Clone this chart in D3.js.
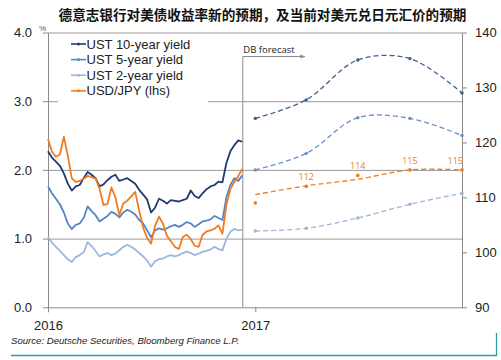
<!DOCTYPE html>
<html><head><meta charset="utf-8">
<script src="https://cdn.jsdelivr.net/npm/d3@7/dist/d3.min.js"></script>
<style>
html,body{margin:0;padding:0;background:#fff;}
svg{display:block;}
text{font-family:"Liberation Sans",Arial,sans-serif;}
</style></head>
<body><svg id="c" width="501" height="360"></svg>
<script>
// ---------- DATA ----------
const title = "德意志银行对美债收益率新的预期，及当前对美元兑日元汇价的预期";
const seriesNames = ["UST 10-year yield","UST 5-year yield","UST 2-year yield","USD/JPY (lhs)"];
const histStart = "2016-01-01"; // weekly observations
const ust10 = [2.27,2.18,2.12,2.06,1.95,1.80,1.70,1.76,1.78,1.88,1.97,1.93,1.88,1.76,1.79,1.85,1.90,1.93,1.84,1.86,
  1.88,1.84,1.80,1.71,1.64,1.57,1.38,1.45,1.58,1.55,1.51,1.56,1.55,1.54,1.56,1.58,1.70,1.62,1.59,1.66,
  1.72,1.76,1.78,1.83,1.82,2.10,2.27,2.36,2.43,2.41];
const ust5 = [1.76,1.66,1.58,1.50,1.38,1.22,1.14,1.20,1.22,1.30,1.47,1.40,1.34,1.25,1.29,1.33,1.39,1.36,1.31,1.38,
  1.42,1.39,1.35,1.27,1.22,1.12,1.02,1.12,1.15,1.13,1.15,1.18,1.20,1.17,1.20,1.24,1.22,1.17,1.21,1.25,
  1.26,1.28,1.33,1.30,1.27,1.60,1.78,1.88,1.84,1.92];
const ust2 = [1.03,0.94,0.88,0.82,0.76,0.70,0.66,0.73,0.76,0.80,0.95,0.89,0.82,0.74,0.77,0.79,0.76,0.78,0.83,0.88,
  0.91,0.88,0.84,0.79,0.74,0.68,0.59,0.67,0.70,0.71,0.74,0.76,0.74,0.76,0.79,0.81,0.79,0.76,0.78,0.81,
  0.82,0.84,0.88,0.85,0.83,1.00,1.10,1.14,1.12,1.13];
const usdjpy = [120.6,118.3,117.4,117.8,121.0,117.6,113.5,112.8,113.0,113.4,113.9,113.7,113.4,111.6,108.6,108.8,111.8,110.0,106.8,108.9,
  109.4,110.2,111.0,107.6,104.5,102.6,101.6,104.8,106.5,105.2,103.0,102.0,101.0,100.6,102.8,103.2,102.4,101.2,101.0,103.2,
  103.8,104.0,104.3,104.9,103.4,108.6,111.5,112.8,113.9,115.2];

const fcDates = ["2017-01-01","2017-04-01","2017-07-01","2017-10-01","2018-01-01"];
const fc10 = [2.75,3.02,3.60,3.62,3.12];
const fc5  = [2.00,2.24,2.76,2.75,2.50];
const fc2  = [1.11,1.15,1.30,1.50,1.66];
const fcJpy = [109,112,114,115,115];
const fcJpyTrend = [110.5,112.1,113.3,115.0,115.0];
const fcJpyLabels = ["","112","114","115","115"];
const forecastStart = "2016-12-10";
const forecastLabel = "DB forecast";

const leftTicks = [0,1,2,3,4];
const rightTicks = [90,100,110,120,130,140];
const xTicks = ["2016-01-01","2017-01-01"];
const source = "Source: Deutsche Securities, Bloomberg Finance L.P.";

// ---------- CHART ----------
const colors = {u10:"#1f3b72", u5:"#5585c4", u2:"#9db8de", jpy:"#f27b1f"};
const fcColors = {u10:"#3f5f93", u5:"#6a91c4", u2:"#9fb6d6", jpy:"#ef7d22"};
const parse = d3.timeParse("%Y-%m-%d");
const svg = d3.select("#c");
const L = 48, R = 462, T = 32.5, B = 307.3;

const x = d3.scaleTime().domain([parse("2016-01-01"), parse("2018-01-01")]).range([L, R]);
const yL = d3.scaleLinear().domain([0,4]).range([B, T]);
const yR = d3.scaleLinear().domain([90,140]).range([B, T]);

const d0 = parse(histStart);
const histDates = ust10.map((_, i) => d3.timeDay.offset(d0, i*7));

svg.append("text").attr("x", 262.5).attr("y", 19.5).attr("text-anchor","middle")
  .style("font-family",'"Noto Sans CJK SC",sans-serif').style("font-weight","bold")
  .style("font-size","13.6px").attr("fill","#111").text(title);

// gridlines
svg.append("g").attr("transform",`translate(${L},0)`)
  .call(d3.axisLeft(yL).tickValues(leftTicks.filter(d=>d>0)).tickSize(-(R-L)).tickFormat(""))
  .call(g=>g.select(".domain").remove())
  .call(g=>g.selectAll("line").attr("stroke","#9a9a9a").attr("stroke-width",1));

// left axis
svg.append("g").attr("transform",`translate(${L},0)`)
  .call(d3.axisLeft(yL).tickValues(leftTicks).tickFormat(d3.format(".1f")).tickSize(5).tickPadding(11).tickSizeOuter(0))
  .call(g=>g.select(".domain").attr("stroke","#8a8a8a"))
  .call(g=>g.selectAll("line").attr("stroke","#8a8a8a"))
  .call(g=>g.selectAll("text").style("font-size","13px").attr("fill","#222"));
svg.append("text").attr("x",39).attr("y",31).style("font-size","8px").attr("fill","#555").text("%");

// right axis
svg.append("g").attr("transform",`translate(${R},0)`)
  .call(d3.axisRight(yR).tickValues(rightTicks).tickSize(5).tickPadding(8).tickSizeOuter(0))
  .call(g=>g.select(".domain").attr("stroke","#8a8a8a"))
  .call(g=>g.selectAll("line").attr("stroke","#8a8a8a"))
  .call(g=>g.selectAll("text").style("font-size","13px").attr("fill","#222"));

// x axis
svg.append("g").attr("transform",`translate(0,${B})`)
  .call(d3.axisBottom(x).tickValues(xTicks.map(parse)).tickFormat(d3.timeFormat("%Y")).tickSize(5).tickPadding(8).tickSizeOuter(0))
  .call(g=>g.select(".domain").attr("stroke","#8a8a8a"))
  .call(g=>g.selectAll("line").attr("stroke","#8a8a8a"))
  .call(g=>g.selectAll("text").style("font-size","13px").attr("fill","#222"));

// forecast separator + arrow
const sx = x(parse(forecastStart));
const sy = yL(3.65);
svg.append("defs").append("marker").attr("id","arr").attr("viewBox","0 0 10 10")
  .attr("refX",9).attr("refY",5).attr("markerWidth",5).attr("markerHeight",5).attr("orient","auto")
  .append("path").attr("d","M0,1L10,5L0,9z").attr("fill","#8a8a8a");
svg.append("path").attr("d",`M${sx},${B}V${sy}H${sx+62}`).attr("fill","none")
  .attr("stroke","#8a8a8a").attr("stroke-width",1).attr("marker-end","url(#arr)");
svg.append("text").attr("x",sx+0.5).attr("y",sy-4).style("font-size","9.5px")
  .style("font-family",'"Open Sans","DejaVu Sans",sans-serif').attr("fill","#222").text(forecastLabel);

// legend background
svg.append("rect").attr("x",58).attr("y",34).attr("width",150).attr("height",70).attr("fill","#fff");

// historical lines
const lineL = d3.line().x((d,i)=>x(histDates[i])).y(d=>yL(d));
const lineR = d3.line().x((d,i)=>x(histDates[i])).y(d=>yR(d));
[[ust2,colors.u2],[ust5,colors.u5],[ust10,colors.u10]].forEach(([s,c])=>{
  svg.append("path").datum(s).attr("d",lineL).attr("fill","none").attr("stroke",c)
    .attr("stroke-width",1.8).attr("stroke-linejoin","round");
});
svg.append("path").datum(usdjpy).attr("d",lineR).attr("fill","none").attr("stroke",colors.jpy)
  .attr("stroke-width",1.8).attr("stroke-linejoin","round");

// forecast lines
const fcD = fcDates.map(parse);
const fLineL = d3.line().x((d,i)=>x(fcD[i])).y(d=>yL(d)).curve(d3.curveCatmullRom.alpha(0.5));
const fLineR = d3.line().x((d,i)=>x(fcD[i])).y(d=>yR(d)).curve(d3.curveCatmullRom.alpha(0.5));
[[fc10,fcColors.u10],[fc5,fcColors.u5],[fc2,fcColors.u2]].forEach(([s,c])=>{
  svg.append("path").datum(s).attr("d",fLineL).attr("fill","none").attr("stroke",c)
    .attr("stroke-width",1.3).attr("stroke-dasharray","5,3");
  svg.selectAll(null).data(s).enter().append("circle")
    .attr("cx",(d,i)=>x(fcD[i])).attr("cy",d=>yL(d)).attr("r",1.7).attr("fill",c);
});
svg.append("path").datum(fcJpyTrend).attr("d",fLineR).attr("fill","none").attr("stroke",fcColors.jpy)
  .attr("stroke-width",1.3).attr("stroke-dasharray","5,3");
svg.selectAll(null).data(fcJpy).enter().append("circle")
  .attr("cx",(d,i)=>x(fcD[i])).attr("cy",d=>yR(d)).attr("r",1.8).attr("fill",fcColors.jpy);
svg.selectAll(null).data(fcJpy).enter().append("text")
  .attr("x",(d,i)=> i===fcJpy.length-1 ? x(fcD[i])+1 : x(fcD[i]))
  .attr("y",d=>yR(d)-6)
  .attr("text-anchor",(d,i)=> i===fcJpy.length-1 ? "end" : "middle")
  .style("font-size","9px").style("font-family",'"Open Sans","DejaVu Sans",sans-serif')
  .attr("fill","#e8802a").text((d,i)=>fcJpyLabels[i]);

// legend
const legColors = [colors.u10, colors.u5, colors.u2, colors.jpy];
const lg = svg.append("g");
seriesNames.forEach((n,i)=>{
  const cy = 44 + i*15.6;
  lg.append("line").attr("x1",71).attr("x2",86).attr("y1",cy).attr("y2",cy)
    .attr("stroke",legColors[i]).attr("stroke-width",1.6);
  lg.append("circle").attr("cx",78.5).attr("cy",cy).attr("r",1.5).attr("fill",legColors[i]);
  lg.append("text").attr("x",86.5).attr("y",cy+4.6).style("font-size","13px").attr("fill","#222").text(n);
});

// source + frame
svg.append("text").attr("x",11).attr("y",343.5).style("font-size","9.6px").style("font-style","italic")
  .attr("fill","#222").text(source);
svg.append("path").attr("d","M11,355.5H496.5V333").attr("fill","none").attr("stroke","#2a9fa6").attr("stroke-width",1.3);
</script></body></html>
